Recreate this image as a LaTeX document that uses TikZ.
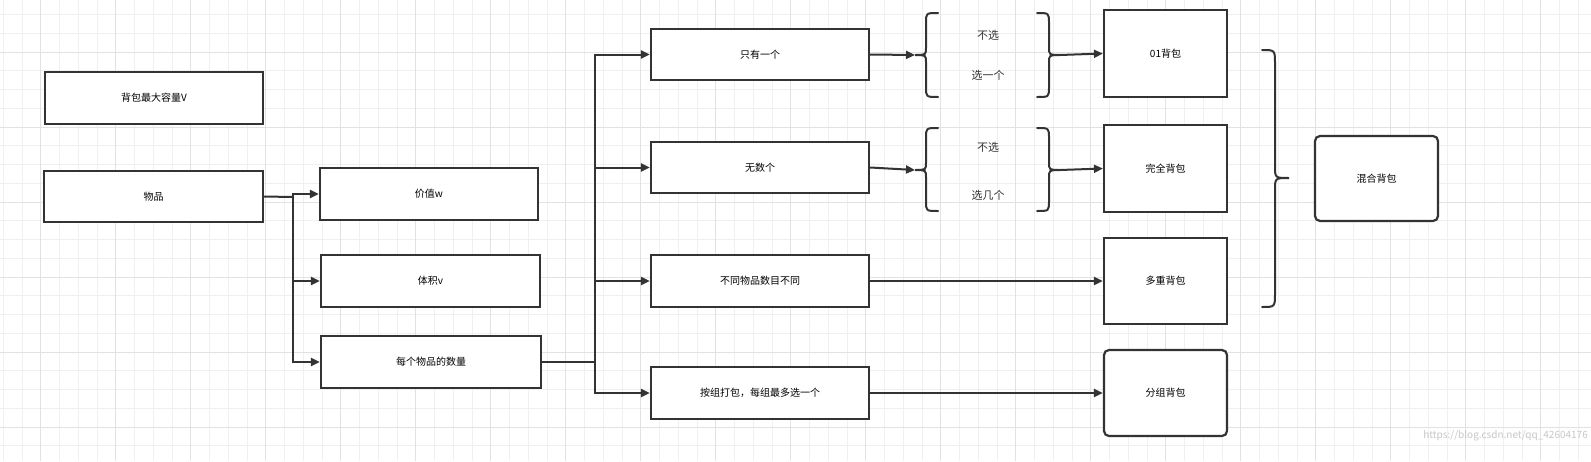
\documentclass[tikz,border=0pt]{standalone}
\usepackage{fontspec}
\setmainfont{Noto Sans CJK SC}
\usetikzlibrary{arrows.meta}
\definecolor{ink}{HTML}{333333}
\definecolor{gmin}{HTML}{F0F0F0}
\definecolor{gmaj}{HTML}{E2E2E2}
\begin{document}
\begin{tikzpicture}[x=1pt,y=-1pt,
  box/.style={draw=ink,line width=2.2pt,fill=white,inner sep=0pt,text=ink,font=\fontsize{11}{13}\selectfont},
  lbl/.style={text=ink,font=\fontsize{11}{13}\selectfont,inner sep=0pt},
  con/.style={draw=ink,line width=2pt,-{Triangle[length=9pt,width=8pt]}},
  ln/.style={draw=ink,line width=2pt},
  br/.style={draw=ink,line width=2pt,line cap=round}]
\useasboundingbox (0,0) rectangle (1591,461);
\fill[white] (0,0) rectangle (1591,461);
\foreach \x in {3.25,22,...,1591} \draw[gmin,line width=0.8pt] (\x,0) -- (\x,461);
\foreach \y in {14.5,33.25,...,461} \draw[gmin,line width=0.8pt] (0,\y) -- (1591,\y);
\foreach \x in {40,115,...,1591} \draw[gmaj,line width=1pt] (\x,0) -- (\x,461);
\foreach \y in {52,127,...,461} \draw[gmaj,line width=1pt] (0,\y) -- (1591,\y);

\newcommand{\mybox}[6]{\node[box,minimum width=#4-#2,minimum height=#5-#3,#6] (#1) at ({(#2+#4)/2},{(#3+#5)/2}) {};}
\mybox{cap}{45}{72}{263}{124}{label=center:背包最大容量V}
\mybox{item}{44}{171}{263}{222}{label=center:物品}
\mybox{val}{320}{168}{538}{220}{label=center:价值w}
\mybox{vol}{321}{255}{540}{307}{label=center:体积v}
\mybox{num}{321}{336}{541}{388}{label=center:每个物品的数量}
\mybox{one}{651}{29}{869}{80}{label=center:只有一个}
\mybox{inf}{651}{142}{869}{193}{label=center:无数个}
\mybox{diff}{651}{255}{869}{307}{label=center:不同物品数目不同}
\mybox{grp}{651}{367}{869}{419}{label=center:按组打包，每组最多选一个}
\mybox{k01}{1104}{10}{1227}{97}{label=center:01背包}
\mybox{kfull}{1104}{125}{1227}{212}{label=center:完全背包}
\mybox{kmul}{1104}{238}{1227}{324}{label=center:多重背包}
\mybox{kgrp}{1104}{350}{1227}{436}{rounded corners=5pt,label=center:分组背包}
\mybox{kmix}{1315}{136}{1438}{221}{rounded corners=5pt,label=center:混合背包}

\node[lbl] (t1) at (988,35) {不选};
\node[lbl] (t2) at (988,75) {选一个};
\node[lbl] (t3) at (988,147) {不选};
\node[lbl] (t4) at (988,195) {选几个};

% braces
\newcommand{\myLbr}[4]{% tip x, top y, bottom y, mid y
  \draw[br] (#1+23,#2) .. controls (#1+11,#2) .. (#1+11,#2+10) -- (#1+11,#4-8) .. controls (#1+11,#4) .. (#1,#4) .. controls (#1+11,#4) .. (#1+11,#4+8) -- (#1+11,#3-10) .. controls (#1+11,#3) .. (#1+23,#3);}
\newcommand{\myRbr}[4]{%
  \draw[br] (#1-23,#2) .. controls (#1-11,#2) .. (#1-11,#2+10) -- (#1-11,#4-8) .. controls (#1-11,#4) .. (#1,#4) .. controls (#1-11,#4) .. (#1-11,#4+8) -- (#1-11,#3-10) .. controls (#1-11,#3) .. (#1-23,#3);}
\myLbr{915}{13}{97}{55}
\myRbr{1060}{13}{97}{55}
\myLbr{915}{128}{211}{170}
\myRbr{1060}{128}{211}{170}
\draw[br] (1262,50) .. controls (1275,50) .. (1275,64) -- (1275,166) .. controls (1275,178) .. (1289,178) .. controls (1275,178) .. (1275,190) -- (1275,293) .. controls (1275,307) .. (1262,307);

\coordinate (b1l) at (915,55); \coordinate (b1r) at (1060,55);
\coordinate (b2l) at (915,170); \coordinate (b2r) at (1060,170);
\draw[con] (one.east) -- (b1l);
\draw[con] (b1r) -- (k01.west);
\draw[con] (inf.east) -- (b2l);
\draw[con] (b2r) -- (kfull.west);
\draw[con] (diff.east) -- (kmul.west);
\draw[con] (grp.east) -- (kgrp.west);

\coordinate (j1) at (293,197);
\draw[ln] (item.east) -- (j1);
\draw[con] (j1) |- (val.west);
\draw[con] (j1) |- (vol.west);
\draw[con] (j1) |- (num.west);
\coordinate (j2) at (595,362);
\draw[ln] (num.east) -- (j2);
\draw[con] (j2) |- (one.west);
\draw[con] (j2) |- (inf.west);
\draw[con] (j2) |- (diff.west);
\draw[con] (j2) |- (grp.west);

\node[anchor=east,text=black!22,font=\fontsize{10}{12}\selectfont,inner sep=0pt] (wm) at (1588,436) {https://blog.csdn.net/qq\_42604176};
\end{tikzpicture}
\end{document}
